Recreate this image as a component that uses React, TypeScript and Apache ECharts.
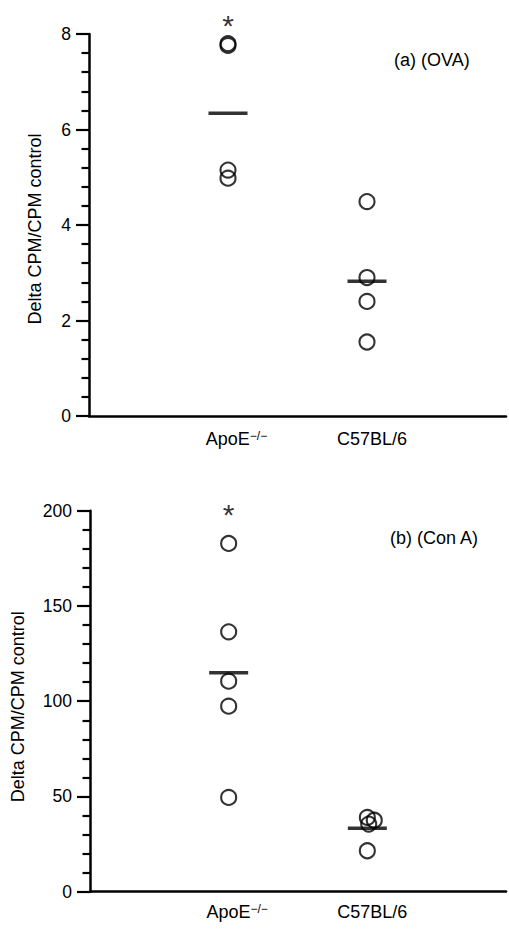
import React, { useEffect, useRef } from 'react';
import * as echarts from 'echarts';

const FONT = '"Liberation Sans", Arial, Helvetica, sans-serif';

// Groups and their x positions
const groupNames = ['ApoE', 'C57BL/6'];
const groupSup = ['−/−', ''];
const groupX = [1, 2];

// Panel (a) OVA
const ovaApoE = [7.8, 7.76, 5.15, 4.98];
const ovaApoEX = [1, 1, 1, 1];
const ovaC57 = [4.49, 2.9, 2.4, 1.55];
const ovaC57X = [2, 2, 2, 2];
const ovaMeans = [6.34, 2.82];
const ovaStar = 8.31;
const ovaAxis = { min: 0, max: 8, interval: 2 };

// Panel (b) Con A
const conaApoE = [182.8, 136.4, 110.5, 97.4, 49.5];
const conaApoEX = [1, 1, 1, 1, 1];
const conaC57 = [39, 37.5, 35.5, 21.5];
const conaC57X = [2, 2.05, 2.01, 2];
const conaMeans = [115, 33.3];
const conaStar = 201;
const conaAxis = { min: 0, max: 200, interval: 50 };

const panelLabels = ['(a) (OVA)', '(b) (Con A)'];
const yName = 'Delta CPM/CPM control';

export default function App() {
  const ref = useRef<HTMLDivElement>(null);

  useEffect(() => {
    if (!ref.current) return;
    const chart = echarts.init(ref.current, null, { renderer: 'svg' });

    const xAxisFor = (gridIndex: number, margin: number) => ({
      type: 'value',
      gridIndex,
      min: 0,
      max: 3,
      interval: 1,
      axisLine: { show: true, lineStyle: { color: '#000', width: 2.5 } },
      axisTick: { show: false },
      splitLine: { show: false },
      axisLabel: {
        margin,
        color: '#000',
        fontSize: 18,
        fontFamily: FONT,
        formatter: (v: number) => {
          const i = groupX.indexOf(v);
          if (i < 0) return '';
          if (groupSup[i]) return '{sp|}' + groupNames[i] + '{sup|' + groupSup[i] + '}';
          return '{c|' + groupNames[i] + '}';
        },
        rich: {
          sp: { width: 17 },
          sup: { fontSize: 12, verticalAlign: 'top', color: '#000', fontFamily: FONT, padding: [0, 0, 6, 0] },
          c: { fontSize: 18, color: '#000', fontFamily: FONT, padding: [0, 0, 0, 10] },
        },
      },
    });

    const yAxisFor = (gridIndex: number, ax: { min: number; max: number; interval: number }, nameGap: number, shift: number) => ({
      type: 'value',
      gridIndex,
      min: ax.min,
      max: ax.max,
      interval: ax.interval,
      name: yName,
      nameLocation: 'middle',
      nameGap,
      nameTextStyle: { fontSize: 18, color: '#000', fontFamily: FONT, padding: [0, shift, 0, 0] },
      axisLine: { show: true, lineStyle: { color: '#000', width: 2.5 } },
      axisTick: { show: true, length: 13, lineStyle: { color: '#000', width: 2.2 } },
      minorTick: { show: true, splitNumber: 5, length: 7.5, lineStyle: { color: '#000', width: 2.2 } },
      splitLine: { show: false },
      minorSplitLine: { show: false },
      axisLabel: { margin: 18, color: '#000', fontSize: 17.5, fontFamily: FONT },
    });

    const circleStyle = { color: 'transparent', borderColor: '#000', borderWidth: 2.1 };

    const seriesFor = (idx: number, apoe: number[], apoeX: number[], c57: number[], c57X: number[], means: number[], star: number) => [
      {
        type: 'scatter', xAxisIndex: idx, yAxisIndex: idx, silent: true,
        symbol: 'circle', symbolSize: 15, itemStyle: circleStyle,
        data: apoe.map((v, i) => [apoeX[i], v]),
      },
      {
        type: 'scatter', xAxisIndex: idx, yAxisIndex: idx, silent: true,
        symbol: 'circle', symbolSize: 15, itemStyle: circleStyle,
        data: c57.map((v, i) => [c57X[i], v]),
      },
      {
        type: 'scatter', xAxisIndex: idx, yAxisIndex: idx, silent: true,
        symbol: 'rect', symbolSize: [39, 3.5], itemStyle: { color: '#000' },
        data: means.map((m, i) => [groupX[i], m]),
      },
      {
        type: 'scatter', xAxisIndex: idx, yAxisIndex: idx, silent: true, clip: false,
        symbol: 'circle', symbolSize: 1, itemStyle: { color: 'transparent' },
        label: { show: true, position: 'inside', formatter: '*', fontSize: 30, color: '#000', fontFamily: FONT, offset: [0, 6] },
        data: [[groupX[0], star]],
      },
    ];

    chart.setOption({
      animation: false,
      backgroundColor: '#fff',
      grid: [
        { left: 89, top: 34, width: 421.5, height: 382 },
        { left: 90, top: 510.7, width: 423, height: 381 },
      ],
      xAxis: [xAxisFor(0, 14), xAxisFor(1, 11)],
      yAxis: [yAxisFor(0, ovaAxis, 45, 8), yAxisFor(1, conaAxis, 63, 11)],
      series: [
        ...seriesFor(0, ovaApoE, ovaApoEX, ovaC57, ovaC57X, ovaMeans, ovaStar),
        ...seriesFor(1, conaApoE, conaApoEX, conaC57, conaC57X, conaMeans, conaStar),
      ],
      graphic: [
        { type: 'text', left: 394, top: 51, style: { text: panelLabels[0], fontSize: 18, fill: '#000', font: '18px ' + FONT } },
        { type: 'text', left: 390, top: 529, style: { text: panelLabels[1], fontSize: 18, fill: '#000', font: '18px ' + FONT } },
      ],
    });

    return () => chart.dispose();
  }, []);

  return (
    <div
      ref={ref}
      style={{ position: 'absolute', left: 0, top: 0, width: 509, height: 930 }}
    />
  );
}
